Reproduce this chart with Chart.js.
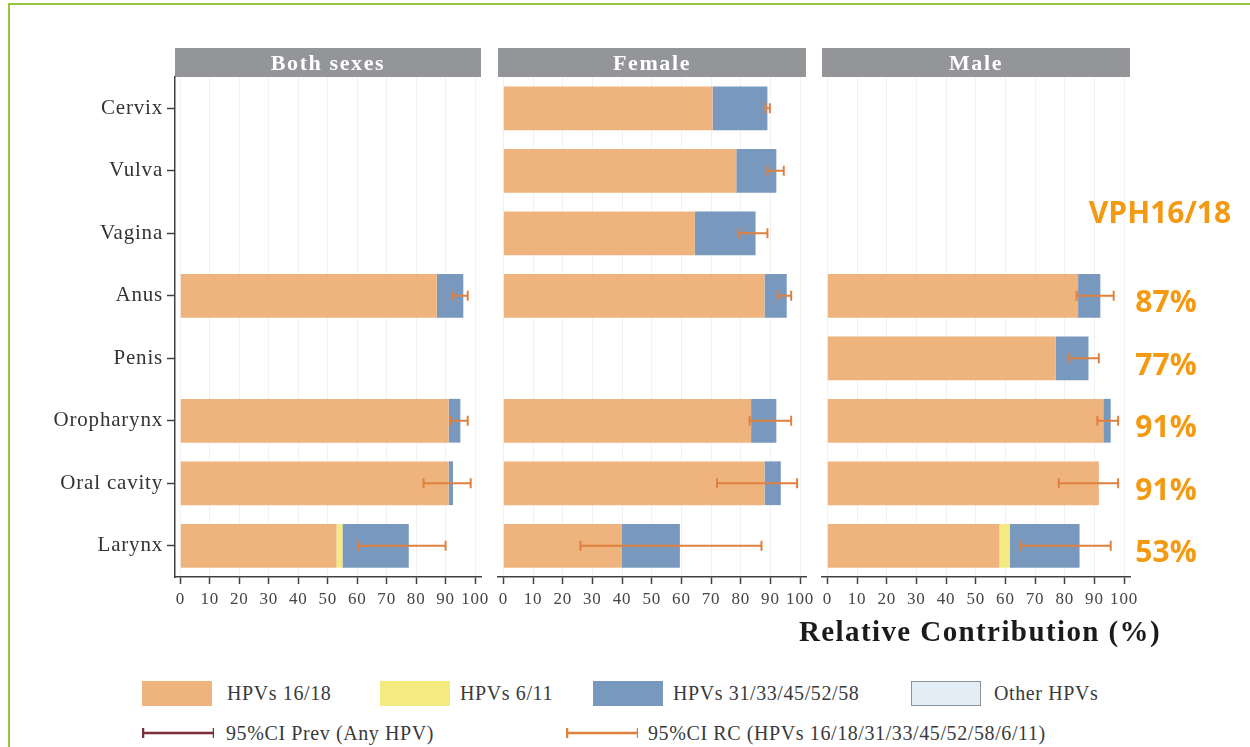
<!DOCTYPE html>
<html>
<head>
<meta charset="utf-8">
<title>Relative contribution of HPV types by cancer site</title>
<script src="https://cdn.jsdelivr.net/npm/chart.js@4.4.1/dist/chart.umd.min.js"></script>
<style>
  html, body { margin: 0; padding: 0; background: #fff; }
  #page { position: relative; width: 1250px; height: 747px; overflow: hidden; background: #fff; }
  #page canvas { position: absolute; top: 0; }
  .frame-top { position: absolute; left: 8px; top: 3px; width: 1242px; height: 2px; background: #93c83a; }
  .frame-left { position: absolute; left: 8px; top: 3px; width: 2px; height: 744px; background: #93c83a; }
  .axis-title { position: absolute; left: 780px; width: 400px; top: 615px; text-align: center;
    font: bold 29px "Liberation Serif", serif; letter-spacing: 1.4px; color: #1b1b1b; }
  .lg-item { position: absolute; font: 20px "Liberation Serif", serif; color: #3a3a3a; letter-spacing: 0.6px;
    white-space: nowrap; line-height: 24px; }
  .lg-swatch { position: absolute; width: 70px; height: 25px; box-sizing: border-box; }
  .lg-line { position: absolute; height: 12px; width: 72px; }
</style>
</head>
<body>
<div id="page">
  <canvas id="panelBoth" width="490" height="620" style="left:0px"></canvas>
  <canvas id="panelFemale" width="325" height="620" style="left:490px"></canvas>
  <canvas id="panelMale" width="435" height="620" style="left:815px"></canvas>
  <div class="frame-top"></div>
  <div class="frame-left"></div>
  <div class="axis-title">Relative Contribution (%)</div>
  <div id="legend"></div>
</div>

<script>
// ---- data -------------------------------------------------------------
const sites = ['Cervix', 'Vulva', 'Vagina', 'Anus', 'Penis', 'Oropharynx', 'Oral cavity', 'Larynx'];
const panelTitles = ['Both sexes', 'Female', 'Male'];
const xTickValues = [0, 10, 20, 30, 40, 50, 60, 70, 80, 90, 100];

const seriesNames = ['HPVs 16/18', 'HPVs 6/11', 'HPVs 31/33/45/52/58', 'Other HPVs'];
const ciNames = ['95%CI Prev (Any HPV)', '95%CI RC (HPVs 16/18/31/33/45/52/58/6/11)'];

// Both sexes
const both1618  = [null, null, null, 87,   null, 91,   91,   53];
const both611   = [null, null, null, 0,    null, 0,    0,    2];
const both3158  = [null, null, null, 9,    null, 4,    1.5,  22.5];
const bothOther = [null, null, null, 0,    null, 0,    0,    0];
const bothCiLow  = [null, null, null, 92.5, null, 91.5, 82.5, 60.5];
const bothCiHigh = [null, null, null, 97.5, null, 97.5, 98.5, 90];

// Female
const fem1618  = [70.5, 78.5, 64.5, 88,   null, 83.5, 88,   40];
const fem611   = [0,    0,    0,    0,    null, 0,    0,    0];
const fem3158  = [18.5, 13.5, 20.5, 7.5,  null, 8.5,  5.5,  19.5];
const femOther = [0,    0,    0,    0,    null, 0,    0,    0];
const femCiLow  = [88.3, 89,   79.5, 92.5, null, 83,   72,   26];
const femCiHigh = [89.8, 94.5, 89,   97,   null, 97,   99,   87];

// Male
const male1618  = [null, null, null, 84.5, 77,   93,   91.5, 58];
const male611   = [null, null, null, 0,    0,    0,    0,    3.5];
const male3158  = [null, null, null, 7.5,  11,   2.5,  0,    23.5];
const maleOther = [null, null, null, 0,    0,    0,    0,    0];
const maleCiLow  = [null, null, null, 84,   81.5, 91,   78,   65];
const maleCiHigh = [null, null, null, 96.5, 91.5, 98,   98,   95.5];

const sideHeading = 'VPH16/18';

// ---- styling ----------------------------------------------------------
const colors = {
  hpv1618: '#efb47d',
  hpv611: '#f5ea7f',
  hpv3158: '#7898bd',
  other: '#e2edf5',
  otherBorder: '#8a949c',
  ciPrev: '#7a2e3b',
  ciRc: '#e0803f',
  header: '#939598',
  axis: '#404040',
  grid: '#f1f1f3',
  accent: '#f39a12'
};
const serif = '"Liberation Serif", "Times New Roman", serif';

// gray strip with the panel name above each plot area
const headerPlugin = {
  id: 'panelHeader',
  beforeDraw(chart, args, opts) {
    const { ctx, chartArea } = chart;
    ctx.save();
    ctx.fillStyle = colors.header;
    ctx.fillRect(chartArea.left, 48, chartArea.right - chartArea.left, 29);
    ctx.fillStyle = '#ffffff';
    ctx.font = 'bold 22px ' + serif;
    ctx.letterSpacing = '1.6px';
    ctx.textAlign = 'center';
    ctx.textBaseline = 'middle';
    ctx.fillText(opts.title, (chartArea.left + chartArea.right) / 2, 64);
    ctx.restore();
  }
};

// wider glyph spacing for the axis texts of a chart
const spacingPlugin = {
  id: 'textSpacing',
  beforeDraw(chart, args, opts) { chart.ctx.letterSpacing = opts.spacing || '0px'; },
  afterDraw(chart) { chart.ctx.letterSpacing = '0px'; }
};

// 95% CI whiskers drawn on the bar rows
const ciPlugin = {
  id: 'ciWhiskers',
  afterDatasetsDraw(chart, args, opts) {
    const { ctx } = chart;
    const xs = chart.scales.x, ys = chart.scales.y;
    ctx.save();
    ctx.strokeStyle = colors.ciRc;
    ctx.lineWidth = 2;
    opts.low.forEach((lo, i) => {
      const hi = opts.high[i];
      if (lo == null || hi == null) return;
      const y = ys.getPixelForValue(i);
      const x1 = xs.getPixelForValue(lo);
      const x2 = xs.getPixelForValue(hi);
      ctx.beginPath();
      ctx.moveTo(x1, y); ctx.lineTo(x2, y);
      ctx.moveTo(x1, y - 5); ctx.lineTo(x1, y + 5);
      ctx.moveTo(x2, y - 5); ctx.lineTo(x2, y + 5);
      ctx.stroke();
    });
    ctx.restore();
  }
};

// HPV16/18 percentages written to the right of the last panel
const sideNotePlugin = {
  id: 'sideNotes',
  afterDraw(chart, args, opts) {
    if (!opts.values) return;
    const { ctx, chartArea } = chart;
    const ys = chart.scales.y;
    const cx = chartArea.right + 36;
    ctx.save();
    ctx.fillStyle = colors.accent;
    ctx.font = 'bold 30px "Open Sans", "Liberation Sans", sans-serif';
    ctx.textAlign = 'center';
    ctx.textBaseline = 'middle';
    ctx.fillText(opts.heading, cx - 6, ys.getPixelForValue(2) - 19);
    opts.values.forEach((v, i) => {
      if (v == null) return;
      ctx.fillText(Math.round(v) + '%', cx, ys.getPixelForValue(i) + 8);
    });
    ctx.restore();
  }
};

function makePanel(canvasId, title, s1618, s611, s3158, sOther, ciLow, ciHigh, showY, pad, notes) {
  const mk = (label, data, color) => ({
    label, data, backgroundColor: color, borderWidth: 0,
    barPercentage: 0.7, categoryPercentage: 1.0
  });
  return new Chart(document.getElementById(canvasId), {
    type: 'bar',
    data: {
      labels: sites,
      datasets: [
        mk(seriesNames[0], s1618, colors.hpv1618),
        mk(seriesNames[1], s611, colors.hpv611),
        mk(seriesNames[2], s3158, colors.hpv3158),
        mk(seriesNames[3], sOther, colors.other)
      ]
    },
    plugins: [spacingPlugin, headerPlugin, ciPlugin, sideNotePlugin],
    options: {
      indexAxis: 'y',
      responsive: false,
      animation: false,
      devicePixelRatio: 1,
      layout: { padding: { top: 77, bottom: 0, left: pad.left, right: pad.right } },
      plugins: {
        legend: { display: false },
        tooltip: { enabled: false },
        panelHeader: { title },
        textSpacing: { spacing: '0.8px' },
        ciWhiskers: { low: ciLow, high: ciHigh },
        sideNotes: notes || {}
      },
      scales: {
        x: {
          type: 'linear',
          stacked: true,
          min: -1.8,
          max: 102,
          afterBuildTicks(scale) { scale.ticks = xTickValues.map(v => ({ value: v })); },
          afterFit(scale) { scale.height = 43; scale.paddingLeft = 0; scale.paddingRight = 0; },
          ticks: {
            autoSkip: false, maxRotation: 0, padding: 5,
            color: '#444', font: { family: serif, size: 17 }
          },
          grid: { color: colors.grid, lineWidth: 1, tickColor: colors.axis, tickLength: 7, tickWidth: 1.5 },
          border: { display: true, color: colors.axis, width: 1.5 }
        },
        y: {
          stacked: true,
          display: showY,
          afterFit(scale) { if (showY) { scale.width = 175; } scale.paddingTop = 0; scale.paddingBottom = 0; },
          ticks: { color: '#333', padding: 4, font: { family: serif, size: 21 } },
          grid: { offset: false, drawOnChartArea: false, tickColor: colors.axis, tickLength: 8, tickWidth: 1.5 },
          border: { display: true, color: colors.axis, width: 1.5 }
        }
      }
    }
  });
}

// percentage notes: both-sexes HPV16/18 share where available, male otherwise
const noteValues = sites.map((s, i) => (i < 3 ? null : (both1618[i] != null ? both1618[i] : male1618[i])));

makePanel('panelBoth', panelTitles[0], both1618, both611, both3158, bothOther, bothCiLow, bothCiHigh,
  true, { left: 0, right: 9 });
makePanel('panelFemale', panelTitles[1], fem1618, fem611, fem3158, femOther, femCiLow, femCiHigh,
  false, { left: 8, right: 9 });
makePanel('panelMale', panelTitles[2], male1618, male611, male3158, maleOther, maleCiLow, maleCiHigh,
  false, { left: 7, right: 120 }, { heading: sideHeading, values: noteValues });

// ---- legend -----------------------------------------------------------
const legend = document.getElementById('legend');
const swatchFill = [colors.hpv1618, colors.hpv611, colors.hpv3158, colors.other];
const swatchX = [142, 380, 593, 911];
const swatchTextX = [227, 460, 673, 994];
seriesNames.forEach((name, i) => {
  const sw = document.createElement('div');
  sw.className = 'lg-swatch';
  sw.style.left = swatchX[i] + 'px';
  sw.style.top = '681px';
  sw.style.background = swatchFill[i];
  if (i === 3) sw.style.border = '1.5px solid ' + colors.otherBorder;
  legend.appendChild(sw);
  const tx = document.createElement('div');
  tx.className = 'lg-item';
  tx.style.left = swatchTextX[i] + 'px';
  tx.style.top = '681px';
  tx.textContent = name;
  legend.appendChild(tx);
});
const ciColors = [colors.ciPrev, colors.ciRc];
const ciX = [142, 566];
const ciTextX = [226, 648];
ciNames.forEach((name, i) => {
  const ln = document.createElementNS('http://www.w3.org/2000/svg', 'svg');
  ln.setAttribute('class', 'lg-line');
  ln.setAttribute('width', '74');
  ln.setAttribute('height', '12');
  ln.style.left = ciX[i] + 'px';
  ln.style.top = '727px';
  ln.style.position = 'absolute';
  ln.innerHTML = '<path d="M1 1 V11 M1 6 H72 M72 1 V11" stroke="' + ciColors[i] + '" stroke-width="2.5" fill="none"/>';
  legend.appendChild(ln);
  const tx = document.createElement('div');
  tx.className = 'lg-item';
  tx.style.left = ciTextX[i] + 'px';
  tx.style.top = '721px';
  tx.textContent = name;
  legend.appendChild(tx);
});
</script>
</body>
</html>
